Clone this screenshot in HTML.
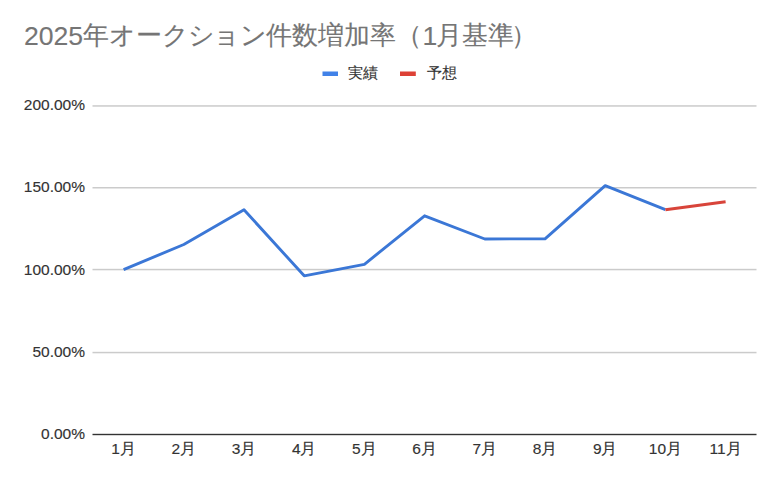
<!DOCTYPE html>
<html><head><meta charset="utf-8">
<style>
html,body{margin:0;padding:0;background:#fff;}
body{width:780px;height:482px;position:relative;overflow:hidden;font-family:"Liberation Sans",sans-serif;}
.t{position:absolute;white-space:nowrap;}
#title{-webkit-text-stroke:0.12px #757575;left:24px;top:18.5px;font-size:26px;line-height:34px;color:#757575;}
#title .d{font-size:26.6px;}
#title .j{position:relative;top:-0.6px;}
#title .k1{margin-right:-1.5px;}
#title .k2{margin-right:-1.6px;}
#title .k3{margin-right:-0.7px;}
.leg{-webkit-text-stroke:0.15px #333;font-size:15px;line-height:18px;color:#333;top:64px;}
.yl{-webkit-text-stroke:0.15px #333;font-size:15.5px;line-height:18px;color:#333;right:695px;text-align:right;}
.xl{-webkit-text-stroke:0.15px #333;font-size:15.5px;line-height:18px;color:#333;top:440px;width:60px;text-align:center;}
svg{position:absolute;left:0;top:0;}
</style></head>
<body>
<div class="t" id="title"><span class="d">2025</span><span class="j">年オー<span class="k1">ク</span><span class="k2">シ</span>ョ<span class="k3">ン</span>件数増加率（</span><span class="d" style="margin-right:-1px">1</span><span class="j">月基<span style="margin-right:-3px">準</span>）</span></div>
<svg width="780" height="482" viewBox="0 0 780 482">
  <rect x="322.5" y="71.5" width="15.5" height="4.5" fill="#4182e8"/>
  <rect x="400" y="71.5" width="15.8" height="4.5" fill="#dd4136"/>
  <g fill="#cbcbcb">
    <rect x="92.5" y="105.2" width="664" height="1.5"/>
    <rect x="92.5" y="187.0" width="664" height="1.5"/>
    <rect x="92.5" y="268.8" width="664" height="1.5"/>
    <rect x="92.5" y="351.8" width="664" height="1.5"/>
  </g>
  <rect x="92.5" y="433.8" width="664" height="1.4" fill="#333333"/>
  <polyline fill="none" stroke="#3b77d6" stroke-width="2.9" stroke-linejoin="round" stroke-linecap="butt"
    points="123.6,269.6 183.8,244.5 244.0,209.8 304.2,275.8 364.4,264.3 424.6,215.8 484.8,239.0 545.0,238.8 605.2,185.6 665.4,209.7"/>
  <polyline fill="none" stroke="#d8443a" stroke-width="2.9" stroke-linejoin="round" stroke-linecap="butt"
    points="665.4,209.7 725.6,201.8"/>
</svg>
<div class="t leg" style="left:348px">実績</div>
<div class="t leg" style="left:427px">予想</div>
<div class="t yl" style="top:96px">200.00%</div>
<div class="t yl" style="top:178px">150.00%</div>
<div class="t yl" style="top:260.5px">100.00%</div>
<div class="t yl" style="top:343px">50.00%</div>
<div class="t yl" style="top:425px">0.00%</div>
<div class="t xl" style="left:93.6px">1月</div>
<div class="t xl" style="left:153.8px">2月</div>
<div class="t xl" style="left:214px">3月</div>
<div class="t xl" style="left:274.2px">4月</div>
<div class="t xl" style="left:334.4px">5月</div>
<div class="t xl" style="left:394.6px">6月</div>
<div class="t xl" style="left:454.8px">7月</div>
<div class="t xl" style="left:515px">8月</div>
<div class="t xl" style="left:575.2px">9月</div>
<div class="t xl" style="left:635.4px">10月</div>
<div class="t xl" style="left:695.6px"><span style="margin-right:-1.2px">1</span>1月</div>
</body></html>
